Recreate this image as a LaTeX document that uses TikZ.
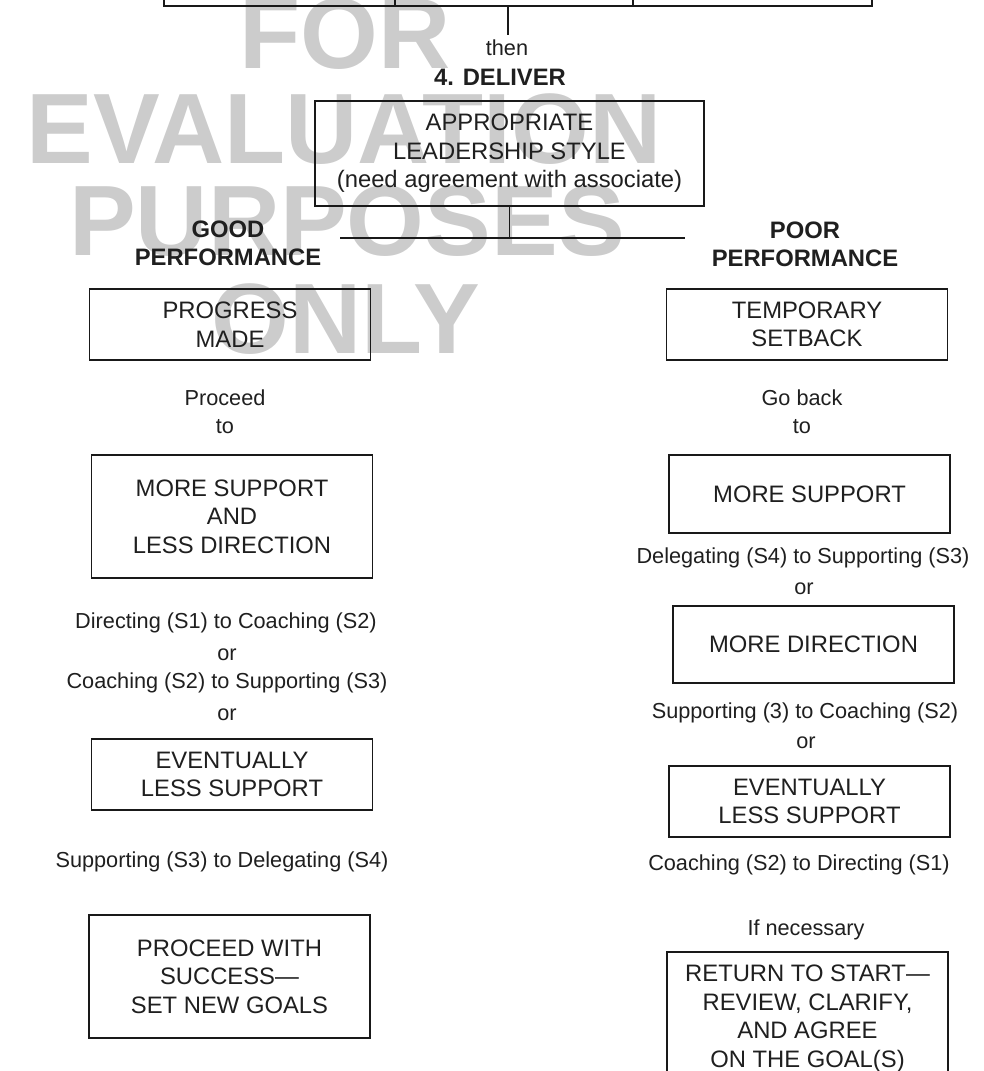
\documentclass[tikz,border=0pt]{standalone}
\usepackage{fontspec}
\setmainfont{Liberation Sans}
\usepackage{tikz}
\usetikzlibrary{positioning,calc}

\begin{document}
\begin{tikzpicture}[
    x=1pt, y=-1pt,
    box/.style={rectangle, draw=black!90, line width=1.6pt,
                minimum width=281, inner sep=0pt,
                align=center, text=black!88,
                font=\fontsize{23.8}{28.5}\selectfont},
    cell/.style={rectangle, draw=black!90, line width=1.6pt,
                 minimum height=40, inner sep=0pt},
    lbl/.style={align=center, inner sep=0pt, text=black!88,
                font=\fontsize{21.7}{27.5}\selectfont},
    ttl/.style={align=center, inner sep=0pt, text=black!88,
                font=\bfseries\fontsize{23.8}{28}\selectfont},
    stamp/.style={inner sep=0pt, text=black!20,
                  font=\bfseries\fontsize{100}{100}\selectfont},
    link/.style={draw=black!90, line width=1.4pt},
]
\useasboundingbox (0,0) rectangle (984,1071);
\clip (0,0) rectangle (984,1071);

%% ─── Watermark ──────────────────────────────────────────────────────────────
\node[stamp, anchor=base] (wm_for)  at (345,68)  {FOR};
\node[stamp, anchor=base] (wm_eval) at (344,163) {EVALUATION};
\node[stamp, anchor=base] (wm_purp) at (347,255) {PURPOSES};
\node[stamp, anchor=base] (wm_only) at (346,353) {ONLY};

%% ─── Previous step (cut off) ────────────────────────────────────────────────
\node[cell, minimum width=231] (cell_a) at (279.5,-14) {};
\node[cell, minimum width=238] (cell_b) at (514,-14)   {};
\node[cell, minimum width=239] (cell_c) at (752.5,-14) {};

%% ─── Deliver ────────────────────────────────────────────────────────────────
\node[lbl] (then)    at (507,48) {then};
\node[ttl] (deliver) at (500,77) {4. DELIVER};

\node[box, minimum width=389, minimum height=105] (style) at (509.5,153.5)
    {APPROPRIATE\\LEADERSHIP STYLE\\(need agreement with associate)};

\node[ttl] (good) at (228,243) {GOOD\\PERFORMANCE};
\node[ttl] (poor) at (805,244) {POOR\\PERFORMANCE};

%% ─── Good performance (left) ────────────────────────────────────────────────
\node[box, minimum height=71] (g_progress) at (230,324.5)
    {PROGRESS\\MADE};
\node[lbl] (g_proceed) at (225,411.5) {Proceed\\to};
\node[box, minimum height=123] (g_support) at (232,516.5)
    {MORE SUPPORT\\AND\\LESS DIRECTION};
\node[lbl] (g_s1s2) at (226,623) {Directing (S1) to Coaching (S2)};
\node[lbl] (g_or1)  at (227,655) {or};
\node[lbl] (g_s2s3) at (227,683) {Coaching (S2) to Supporting (S3)};
\node[lbl] (g_or2)  at (227,715) {or};
\node[box, minimum height=71] (g_less) at (232,774.5)
    {EVENTUALLY\\LESS SUPPORT};
\node[lbl] (g_s3s4) at (222,862) {Supporting (S3) to Delegating (S4)};
\node[box, minimum height=123] (g_success) at (229.5,976.5)
    {PROCEED WITH\\SUCCESS---\\SET NEW GOALS};

%% ─── Poor performance (right) ───────────────────────────────────────────────
\node[box, minimum height=71] (p_setback) at (807,324.5)
    {TEMPORARY\\SETBACK};
\node[lbl] (p_goback) at (802,411.5) {Go back\\to};
\node[box, minimum height=78] (p_support) at (809.5,494)
    {MORE SUPPORT};
\node[lbl] (p_s4s3) at (803,558) {Delegating (S4) to Supporting (S3)};
\node[lbl] (p_or1)  at (804,589) {or};
\node[box, minimum height=77] (p_direct) at (813.5,644.5)
    {MORE DIRECTION};
\node[lbl] (p_s3s2) at (805,713) {Supporting (3) to Coaching (S2)};
\node[lbl] (p_or2)  at (806,743) {or};
\node[box, minimum height=71] (p_less) at (809.5,801.5)
    {EVENTUALLY\\LESS SUPPORT};
\node[lbl] (p_s2s1) at (799,865) {Coaching (S2) to Directing (S1)};
\node[lbl] (p_ifnec) at (806,930) {If necessary};
\node[box, minimum height=133] (p_return) at (807.5,1018.5)
    {RETURN TO START---\\REVIEW, CLARIFY,\\AND AGREE\\ON THE GOAL(S)};

%% ─── Connectors ─────────────────────────────────────────────────────────────
\coordinate (top_end) at (508,35);
\coordinate (fork)    at (style.south |- 0,238);
\coordinate (fork_l)  at (340,238);
\coordinate (fork_r)  at (685,238);

\draw[link] (top_end |- cell_b.south) -- (top_end);
\draw[link] (style.south) -- (fork);
\draw[link] (fork_l) -- (fork_r);

\end{tikzpicture}
\end{document}
